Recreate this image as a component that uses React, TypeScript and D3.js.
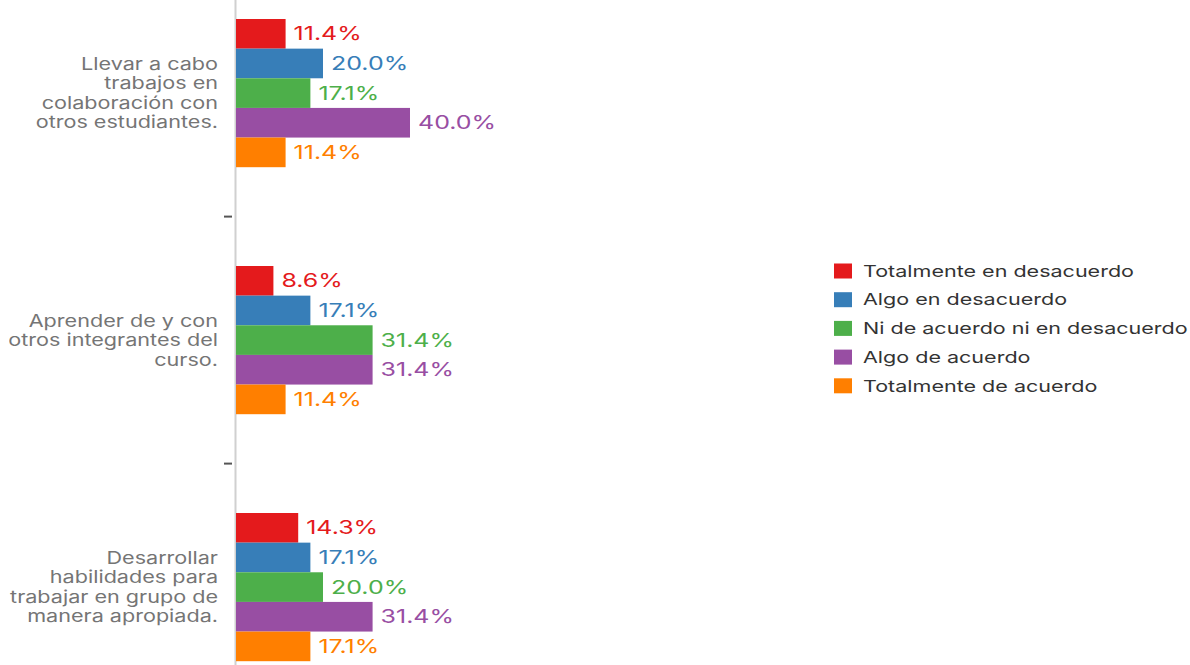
import React from "react";
import * as d3 from "d3";

const categories = [
  "Llevar a cabo trabajos en colaboración con otros estudiantes.",
  "Aprender de y con otros integrantes del curso.",
  "Desarrollar habilidades para trabajar en grupo de manera apropiada.",
];
const categoryLines = [
  ["Llevar a cabo", "trabajos en", "colaboración con", "otros estudiantes."],
  ["Aprender de y con", "otros integrantes del", "curso."],
  ["Desarrollar", "habilidades para", "trabajar en grupo de", "manera apropiada."],
];
const seriesNames = [
  "Totalmente en desacuerdo",
  "Algo en desacuerdo",
  "Ni de acuerdo ni en desacuerdo",
  "Algo de acuerdo",
  "Totalmente de acuerdo",
];
const seriesColors = ["#e41a1c", "#377eb8", "#4daf4a", "#984ea3", "#ff7f00"];
const totalmenteDesacuerdo = [11.4, 8.6, 14.3];
const algoDesacuerdo = [20.0, 17.1, 17.1];
const niAcuerdoNiDesacuerdo = [17.1, 31.4, 20.0];
const algoAcuerdo = [40.0, 31.4, 31.4];
const totalmenteAcuerdo = [11.4, 11.4, 17.1];
const seriesValues = [
  totalmenteDesacuerdo,
  algoDesacuerdo,
  niAcuerdoNiDesacuerdo,
  algoAcuerdo,
  totalmenteAcuerdo,
];

const W = 1190;
const H = 665;
const FONT = "Inter, 'DejaVu Sans', sans-serif";

export default function App() {
  const axisX = 236;
  const x = d3.scaleLinear().domain([0, 40]).range([axisX, 410]);
  const y = d3
    .scaleBand<string>()
    .domain(categories)
    .range([-30.4, 710.6])
    .paddingInner(0.4)
    .paddingOuter(0.2);
  const inner = d3
    .scaleBand<string>()
    .domain(seriesNames)
    .range([0, y.bandwidth()]);
  const step = y.step();
  const tickYs = categories.slice(1).map((c) => (y(c) as number) - (step * 0.4) / 2);
  const lineH = 19.5;
  const catSx = 1.27;
  const valSx = 1.35;
  const legSx = 1.305;

  return (
    <svg
      width={W}
      height={H}
      style={{ position: "absolute", left: 0, top: 0, background: "#fff" }}
      fontFamily={FONT}
    >
      <defs>
        <clipPath id="lblclip">
          <rect x={9} y={0} width={W} height={H} />
        </clipPath>
      </defs>
      {/* axis line */}
      <line x1={axisX - 0.5} x2={axisX - 0.5} y1={0} y2={H} stroke="#d0d0d0" strokeWidth={2} />
      {tickYs.map((ty, i) => (
        <line key={i} x1={224} x2={232} y1={ty} y2={ty} stroke="#555" strokeWidth={2} />
      ))}
      {/* category labels */}
      <g clipPath="url(#lblclip)">
        {categories.map((c, ci) => {
          const cy = (y(c) as number) + y.bandwidth() / 2;
          const lines = categoryLines[ci];
          const start = cy - ((lines.length - 1) * lineH) / 2;
          return (
            <g key={c} transform={`translate(218,0) scale(${catSx},1)`}>
              <text x={0} textAnchor="end" fontSize={17} fill="#757575">
                {lines.map((l, li) => (
                  <tspan key={li} x={0} y={start + li * lineH} dy="0.35em">
                    {l}
                  </tspan>
                ))}
              </text>
            </g>
          );
        })}
      </g>
      {/* bars */}
      {categories.map((c, ci) => (
        <g key={c} transform={`translate(0,${y(c)})`}>
          {seriesNames.map((s, si) => {
            const v = seriesValues[si][ci];
            const by = inner(s) as number;
            return (
              <g key={s}>
                <rect
                  x={x(0)}
                  y={by}
                  width={x(v) - x(0)}
                  height={inner.bandwidth()}
                  fill={seriesColors[si]}
                />
                <g transform={`translate(${x(v) + 8},${by + inner.bandwidth() / 2}) scale(${valSx},1)`}>
                  <text x={0} y={0} dy="0.36em" fontSize={18.5} fill={seriesColors[si]}>
                    {v.toFixed(1) + "%"}
                  </text>
                </g>
              </g>
            );
          })}
        </g>
      ))}
      {/* legend */}
      {seriesNames.map((s, si) => {
        const ly = 271 + si * 28.7;
        return (
          <g key={s}>
            <rect x={834} y={ly - 7.5} width={18} height={15} fill={seriesColors[si]} />
            <g transform={`translate(863,${ly}) scale(${legSx},1)`}>
              <text x={0} y={0} dy="0.35em" fontSize={16.5} fill="#333">
                {s}
              </text>
            </g>
          </g>
        );
      })}
    </svg>
  );
}
